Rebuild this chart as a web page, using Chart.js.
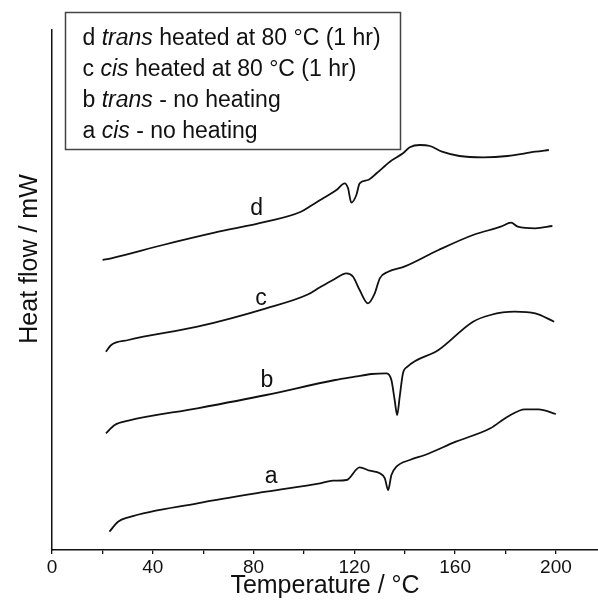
<!DOCTYPE html>
<html lang="en">
<head>
  <meta charset="UTF-8">
  <title>DSC curves</title>
  <script src="https://cdn.jsdelivr.net/npm/chart.js"></script>
  <style>
    body { margin: 0; background: #fff; }
    #wrap { width: 598px; height: 603px; }
  </style>
</head>
<body>
  <div id="wrap"><canvas id="dsc" width="598" height="603"></canvas></div>

  <script>
    // curves: temperature (°C) and heat flow (arbitrary units, offset per curve)
    const aTemp = [22.8, 26.2, 30.3, 57.7, 85.0, 106.4, 111.5, 116.9, 122.1, 126.1, 130.1, 132.1, 133.4, 134.7, 136.7, 142.0, 148.0, 160.3, 174.0, 180.8, 187.7, 193.1, 200.0];
    const aHeat = [18.3, 28.3, 32.7, 46.7, 58.3, 66.7, 69.3, 70.0, 82.7, 79.3, 76.7, 71.7, 60.0, 75.0, 83.3, 90.0, 95.0, 108.3, 121.7, 133.3, 140.7, 140.7, 136.0];

    const bTemp = [21.4, 24.9, 30.3, 57.7, 85.0, 112.4, 120.2, 126.8, 132.8, 134.7, 136.0, 137.0, 138.0, 139.3, 141.1, 153.4, 167.1, 174.0, 183.6, 191.8, 199.3];
    const bHeat = [116.7, 125.0, 129.3, 141.7, 155.0, 170.0, 173.3, 176.0, 176.7, 170.0, 150.0, 135.0, 153.3, 176.7, 183.3, 200.0, 228.3, 235.0, 238.3, 236.7, 228.3];

    const cTemp = [21.4, 23.5, 30.3, 57.7, 85.0, 101.5, 106.2, 111.5, 116.9, 119.5, 122.1, 125.4, 128.1, 130.1, 133.4, 139.8, 153.4, 167.1, 178.1, 182.2, 184.9, 191.8, 198.6];
    const cHeat = [198.3, 205.0, 210.0, 223.3, 241.7, 255.5, 262.5, 270.0, 276.7, 273.3, 260.0, 246.7, 256.7, 271.7, 278.3, 283.3, 300.0, 315.0, 323.3, 327.3, 323.3, 321.7, 324.0];

    const dTemp = [20.1, 23.5, 44.0, 64.5, 85.0, 98.8, 102.3, 107.6, 112.9, 116.2, 117.5, 118.8, 120.8, 122.1, 125.4, 128.8, 134.1, 139.3, 142.0, 146.0, 150.0, 154.8, 161.7, 171.2, 180.8, 191.8, 197.2];
    const dHeat = [290.0, 291.7, 305.0, 317.3, 328.3, 338.3, 343.5, 351.7, 360.0, 366.7, 361.7, 347.3, 355.0, 366.7, 370.0, 376.7, 388.3, 396.7, 402.7, 405.0, 404.0, 398.3, 394.0, 392.7, 394.0, 398.3, 400.0];

    // curve letters and where they sit
    const curveNames = ['d', 'c', 'b', 'a'];
    const nameTemp = [81.2, 82.9, 85.3, 87.0];
    const nameHeat = [335, 245, 162.7, 66.7];

    // legend text, [text, italic]
    const legendLines = [
      [['d ', false], ['trans', true], [' heated at 80 \u00B0C (1 hr)', false]],
      [['c ', false], ['cis', true], [' heated at 80 \u00B0C (1 hr)', false]],
      [['b ', false], ['trans', true], [' - no heating', false]],
      [['a ', false], ['cis', true], [' - no heating', false]]
    ];

    const xTitle = 'Temperature / \u00B0C';
    const yTitle = 'Heat flow / mW';

    const FONT = '"Liberation Sans", Arial, Helvetica, sans-serif';

    function pts(t, v) {
      return t.map((x, i) => ({x: x, y: v[i]}));
    }

    function curve(t, v) {
      return {
        data: pts(t, v),
        borderColor: '#111',
        borderWidth: 1.8,
        pointRadius: 0,
        fill: false,
        cubicInterpolationMode: 'monotone'
      };
    }

    const annotate = {
      id: 'annotate',
      afterDraw(chart) {
        const {ctx, scales: {x, y}} = chart;
        ctx.save();
        ctx.fillStyle = '#111';

        // letters next to each trace
        ctx.font = '23px ' + FONT;
        ctx.textAlign = 'center';
        ctx.textBaseline = 'alphabetic';
        curveNames.forEach((n, i) => {
          ctx.fillText(n, x.getPixelForValue(nameTemp[i]), y.getPixelForValue(nameHeat[i]));
        });

        // legend box
        ctx.strokeStyle = '#444';
        ctx.lineWidth = 1.5;
        ctx.strokeRect(65.5, 12.5, 335, 137);
        ctx.textAlign = 'left';
        legendLines.forEach((line, i) => {
          let px = 82.5;
          const py = 45 + i * 31;
          line.forEach(([txt, it]) => {
            ctx.font = (it ? 'italic ' : '') + '23px ' + FONT;
            ctx.fillText(txt, px, py);
            px += ctx.measureText(txt).width;
          });
        });

        // axis titles
        ctx.font = '25px ' + FONT;
        ctx.textAlign = 'center';
        ctx.fillText(xTitle, 325, 593);
        ctx.translate(37, 259);
        ctx.rotate(-Math.PI / 2);
        ctx.fillText(yTitle, 0, 0);
        ctx.restore();
      }
    };

    new Chart(document.getElementById('dsc'), {
      type: 'line',
      data: {
        datasets: [curve(aTemp, aHeat), curve(bTemp, bHeat), curve(cTemp, cHeat), curve(dTemp, dHeat)]
      },
      options: {
        responsive: false,
        animation: false,
        layout: {padding: {top: 30, left: 0, right: 0, bottom: 0}},
        plugins: {legend: {display: false}, tooltip: {enabled: false}},
        scales: {
          x: {
            type: 'linear',
            min: 0,
            max: 216.7,
            afterFit(scale) { scale.height = 53; },
            border: {display: true, color: '#111', width: 1.5},
            grid: {display: true, drawOnChartArea: false, drawTicks: true, tickLength: 4, color: '#111', lineWidth: 1.3},
            ticks: {
              stepSize: 20,
              includeBounds: false,
              autoSkip: false,
              maxRotation: 0,
              padding: 2,
              color: '#111',
              font: {family: FONT, size: 19},
              callback: v => (v % 40 === 0 ? v : '')
            }
          },
          y: {
            min: 0,
            max: 520,
            afterFit(scale) { scale.width = 52; },
            border: {display: true, color: '#111', width: 1.5},
            grid: {display: false},
            ticks: {display: false}
          }
        }
      },
      plugins: [annotate]
    });
  </script>
</body>
</html>
